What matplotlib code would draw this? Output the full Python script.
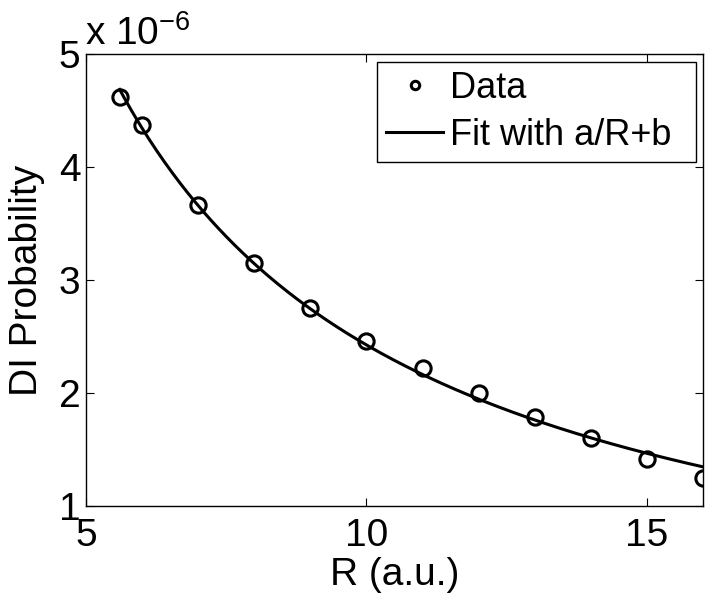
import numpy as np
import matplotlib
matplotlib.use("Agg")
import matplotlib.pyplot as plt

plt.rcParams["font.family"] = ["Liberation Sans", "DejaVu Sans"]
plt.rcParams["mathtext.fontset"] = "custom"
plt.rcParams["mathtext.rm"] = "Liberation Sans"
plt.rcParams["mathtext.it"] = "Liberation Sans"

# --- data (probability in units of 1e-6) ---
R = [5.6, 6, 7, 8, 9, 10, 11, 12, 13, 14, 15, 16]
prob_e6 = [4.62, 4.37, 3.66, 3.15, 2.75, 2.46, 2.22, 2.00, 1.79, 1.60, 1.42, 1.25]
x_ticks = [5, 10, 15]
y_ticks = [1, 2, 3, 4, 5]

# fit with a/R + b (least squares on 1/R)
R_arr = np.array(R)
p_arr = np.array(prob_e6)
a, b = np.polyfit(1.0 / R_arr, p_arr, 1)
R_fit = np.linspace(R_arr.min(), R_arr.max(), 300)
p_fit = a / R_fit + b

FS = 28
W, H = 707, 596
fig = plt.figure(figsize=(W / 100, H / 100), dpi=100)
ax = fig.add_axes([86 / W, 1 - 506 / H, 617 / W, 452 / H])

ax.plot(R_arr, p_arr, "o", color="black", markerfacecolor="none",
        markersize=11, markeredgewidth=2.2, label="Data", zorder=3)
ax.plot(R_fit, p_fit, "-", color="black", linewidth=2.2, label="Fit with a/R+b")

ax.set_xlim(5, 16)
ax.set_ylim(1, 5)
ax.set_xticks(x_ticks)
ax.set_yticks(y_ticks)
for s in ax.spines.values():
    s.set_linewidth(1.0)
ax.tick_params(direction="in", length=6, width=0.8, labelsize=FS,
               top=True, right=True)
ax.tick_params(axis="x", pad=9)
ax.tick_params(axis="y", pad=4)

ax.set_xlabel("R (a.u.)", fontsize=FS, labelpad=2)
ax.set_ylabel("DI Probability", fontsize=FS, labelpad=9.5)

# exponent label, MATLAB style
fig.text(85 / W, 1 - 45 / H, r"x 10$^{-6}$", fontsize=FS, ha="left", va="baseline")

# legend box spans x 377..696 px, top at 62 px
leg = ax.legend(loc="upper left", mode="expand",
                bbox_to_anchor=(377 / W, 1 - 163 / H, 319 / W, 101 / H),
                bbox_transform=fig.transFigure, borderaxespad=0,
                fontsize=26, fancybox=False, edgecolor="black", framealpha=1,
                handlelength=1.58, handletextpad=0.2, labelspacing=0.33,
                borderpad=0.25, markerscale=0.55)
leg.get_frame().set_linewidth(1.0)

fig.savefig("out.png", dpi=100)
